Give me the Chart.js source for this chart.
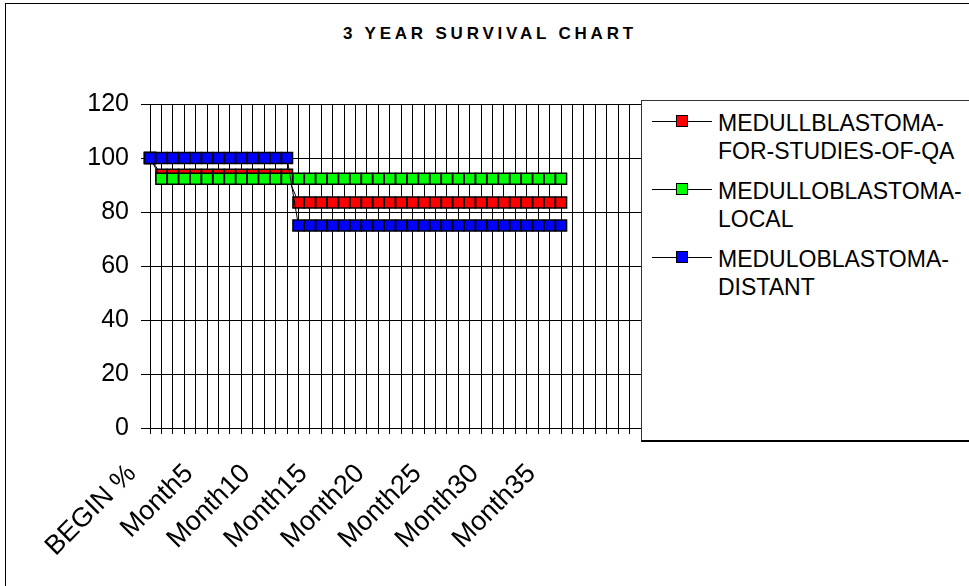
<!DOCTYPE html>
<html>
<head>
<meta charset="utf-8">
<script src="https://cdn.jsdelivr.net/npm/chart.js@4/dist/chart.umd.min.js"></script>
<style>
  html, body { margin: 0; padding: 0; background: #fff; }
  #wrap { position: relative; width: 969px; height: 586px; overflow: hidden; font-family: "Liberation Sans", Arial, sans-serif; }
  #frame { position: absolute; left: 5px; top: 3px; width: 1200px; height: 800px; border: 1px solid #000; }
  #title { position: absolute; left: 0; width: 980px; top: 24px; text-align: center; font-weight: bold; font-size: 17px; letter-spacing: 3.8px; color: #000; }
  #chart { position: absolute; left: 0; top: 0; }
  #legend { position: absolute; left: 641px; top: 100px; width: 400px; height: 339px; border: 1px solid #333; border-bottom: 2px solid #000; background: #fff; }
  .item { position: absolute; left: 10px; }
  .item .key { position: absolute; left: 0; top: 12px; width: 60px; height: 1px; background: #000; }
  .item .key span { position: absolute; left: 24px; top: -6px; width: 10px; height: 10px; border: 1.5px solid #000; }
  .item .txt { position: absolute; left: 66px; top: 0; font-size: 23px; line-height: 28px; white-space: nowrap; color: #000; }
</style>
</head>
<body>
<div id="wrap">
  <div id="frame"></div>
  <div id="title">3 YEAR SURVIVAL CHART</div>
  <canvas id="chart" width="969" height="586"></canvas>
  <div id="legend"></div>
</div>
<script>
// categories: BEGIN %, Month1..Month36, then empty slots the sheet left blank
const categories = [
  'BEGIN %', 'Month1', 'Month2', 'Month3', 'Month4', 'Month5', 'Month6', 'Month7', 'Month8', 'Month9',
  'Month10', 'Month11', 'Month12', 'Month13', 'Month14', 'Month15', 'Month16', 'Month17', 'Month18', 'Month19',
  'Month20', 'Month21', 'Month22', 'Month23', 'Month24', 'Month25', 'Month26', 'Month27', 'Month28', 'Month29',
  'Month30', 'Month31', 'Month32', 'Month33', 'Month34', 'Month35', 'Month36',
  '', '', '', '', '', '', ''
];
const shownTicks = ['BEGIN %', 'Month5', 'Month10', 'Month15', 'Month20', 'Month25', 'Month30', 'Month35'];
const yTicks = [0, 20, 40, 60, 80, 100, 120];

const seriesNames = [
  ['MEDULLBLASTOMA-', 'FOR-STUDIES-OF-QA'],
  ['MEDULLOBLASTOMA-', 'LOCAL'],
  ['MEDULOBLASTOMA-', 'DISTANT']
];
const seriesColors = ['#ff0000', '#00ff00', '#0000ff'];

const qaValues = [
  100, 93.8, 93.8, 93.8, 93.8, 93.8, 93.8, 93.8, 93.8, 93.8, 93.8, 93.8, 93.8,
  83.5, 83.5, 83.5, 83.5, 83.5, 83.5, 83.5, 83.5, 83.5, 83.5, 83.5, 83.5,
  83.5, 83.5, 83.5, 83.5, 83.5, 83.5, 83.5, 83.5, 83.5, 83.5, 83.5, 83.5
];
const localValues = [
  100, 92.3, 92.3, 92.3, 92.3, 92.3, 92.3, 92.3, 92.3, 92.3, 92.3, 92.3, 92.3,
  92.3, 92.3, 92.3, 92.3, 92.3, 92.3, 92.3, 92.3, 92.3, 92.3, 92.3, 92.3,
  92.3, 92.3, 92.3, 92.3, 92.3, 92.3, 92.3, 92.3, 92.3, 92.3, 92.3, 92.3
];
const distantValues = [
  100, 100, 100, 100, 100, 100, 100, 100, 100, 100, 100, 100, 100,
  75, 75, 75, 75, 75, 75, 75, 75, 75, 75, 75, 75,
  75, 75, 75, 75, 75, 75, 75, 75, 75, 75, 75, 75
];

const allValues = [qaValues, localValues, distantValues];

function makeSet(i, order) {
  return {
    label: seriesNames[i].join(''),
    data: allValues[i],
    borderColor: '#000',
    borderWidth: 1,
    pointStyle: 'rect',
    pointRadius: 7.8,
    pointBorderWidth: 1.5,
    pointBorderColor: '#000',
    pointBackgroundColor: seriesColors[i],
    backgroundColor: seriesColors[i],
    tension: 0,
    fill: false,
    order: order
  };
}

const font = '"Liberation Sans", Arial, sans-serif';

new Chart(document.getElementById('chart'), {
  type: 'line',
  data: {
    labels: categories,
    datasets: [makeSet(0, 3), makeSet(1, 2), makeSet(2, 1)]
  },
  options: {
    responsive: false,
    animation: false,
    devicePixelRatio: 1,
    layout: { padding: { left: 0, right: 328, top: 104, bottom: 0 } },
    plugins: { legend: { display: false }, title: { display: false }, tooltip: { enabled: false } },
    scales: {
      x: {
        type: 'category',
        offset: false,
        grid: { color: '#000', lineWidth: 1, tickLength: 6, offset: false },
        border: { color: '#000' },
        ticks: {
          autoSkip: false,
          minRotation: 45,
          maxRotation: 45,
          color: '#000',
          font: { family: font, size: 27 },
          padding: 24,
          labelOffset: -18,
          callback: function (v, i) {
            const c = categories[i];
            return shownTicks.includes(c) ? c : '';
          }
        },
        afterFit: s => { s.height = 158; }
      },
      y: {
        min: 0,
        max: 120,
        grid: { color: '#000', lineWidth: 1, tickLength: 9 },
        border: { color: '#000' },
        afterBuildTicks: s => { s.ticks = yTicks.map(v => ({ value: v })); },
        ticks: { color: '#000', font: { family: font, size: 25 }, padding: 12 },
        afterFit: s => { s.width = 150; }
      }
    }
  }
});

// legend, built from the same series arrays
const legend = document.getElementById('legend');
seriesNames.forEach((name, i) => {
  const it = document.createElement('div');
  it.className = 'item';
  it.style.top = (8 + i * 68) + 'px';
  it.innerHTML = '<div class="key"><span style="background:' + seriesColors[i] + '"></span></div>' +
    '<div class="txt">' + name.join('<br>') + '</div>';
  legend.appendChild(it);
});
</script>
</body>
</html>
